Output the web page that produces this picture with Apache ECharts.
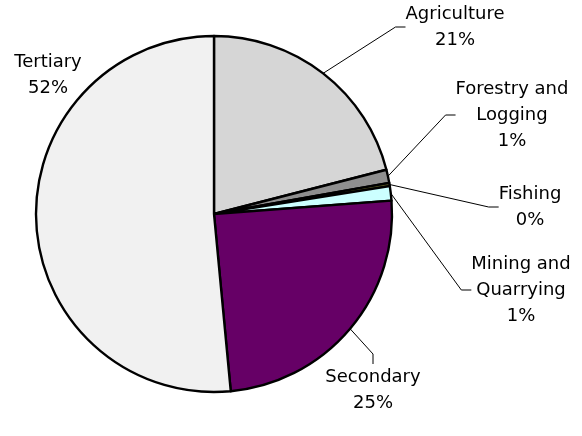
<!DOCTYPE html>
<html>
<head>
<meta charset="utf-8">
<script src="https://cdn.jsdelivr.net/npm/echarts@6/dist/echarts.min.js"></script>
<style>
  html, body { margin: 0; padding: 0; background: #fff; }
  #chart { width: 582px; height: 436px; }
</style>
</head>
<body>
<div id="chart"></div>
<script>
const sectors = ['Agriculture', 'Forestry and\nLogging', 'Fishing', 'Mining and\nQuarrying', 'Secondary', 'Tertiary'];
const shares = [21.0, 1.2, 0.3, 1.3, 24.7, 51.5];
const colors = ['#d6d6d6', '#8f8f8f', '#5a5a22', '#ccffff', '#660066', '#f1f1f1'];

// where each label sits (centre of the text block)
const labelSpots = [[455, 27], [512, 115], [530, 207], [521, 290], [373, 390], [48, 75]];

let chart = echarts.init(document.getElementById('chart'));

let option = {
  animation: false,
  series: [
    {
      type: 'pie',
      center: [214, 214],
      radius: 178,
      startAngle: 90,
      clockwise: true,
      percentPrecision: 0,
      avoidLabelOverlap: false,
      itemStyle: {
        borderColor: '#000',
        borderWidth: 2.4,
      },
      label: {
        show: true,
        position: 'outside',
        formatter: '{b}\n{d}%',
        fontFamily: 'DejaVu Sans',
        fontSize: 18,
        lineHeight: 26,
        color: '#000',
        align: 'center',
      },
      labelLine: {
        show: true,
        length: 15,
        length2: 10,
        lineStyle: { color: '#000', width: 1 },
      },
      labelLayout: (params) => {
        let p = labelSpots[params.dataIndex];
        return {
          x: p[0],
          y: p[1],
          align: 'center',
          verticalAlign: 'middle',
        };
      },
      data: sectors.map((name, i) => ({
        name: name,
        value: shares[i],
        itemStyle: { color: colors[i] },
        labelLine: { show: i !== 5 },
      })),
    },
  ],
};

chart.setOption(option);
</script>
</body>
</html>
